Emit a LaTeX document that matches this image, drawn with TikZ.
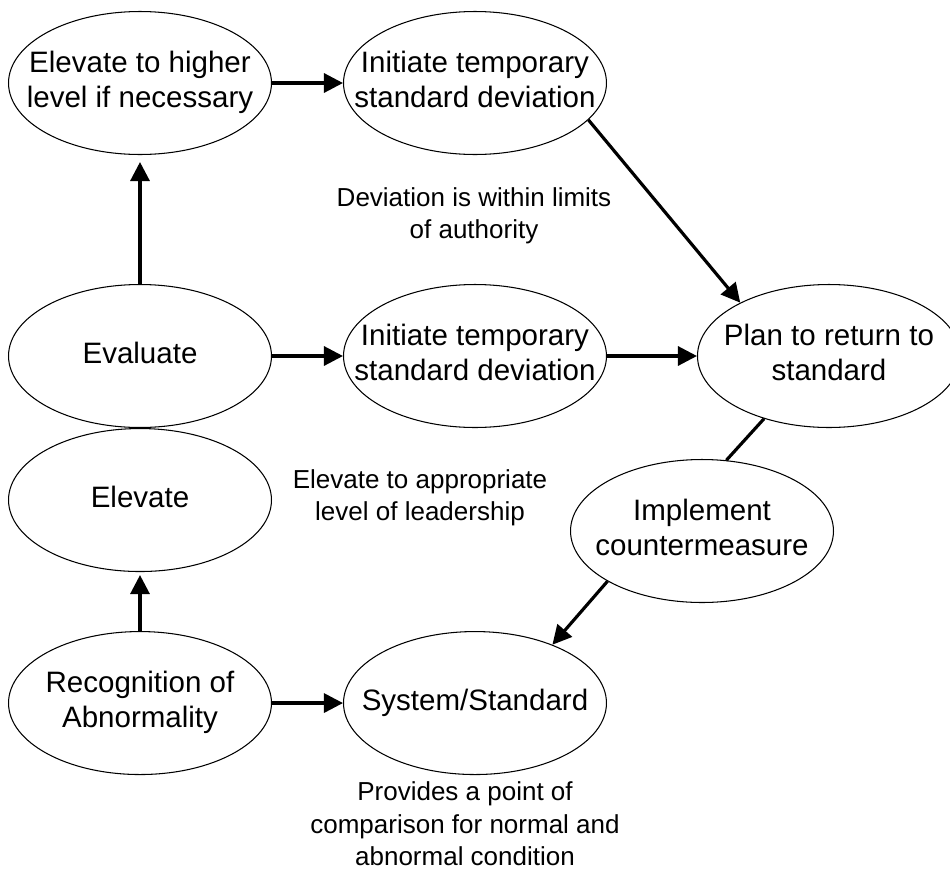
\documentclass[tikz,border=0pt]{standalone}
\usepackage{fontspec}
\setmainfont{Liberation Sans}
\usepackage{tikz}
\usetikzlibrary{positioning,arrows.meta,shapes.geometric}
\newcommand{\inell}[1]{\makebox[0pt]{\begin{tabular}{@{}c@{}}#1\end{tabular}}}

\begin{document}
\begin{tikzpicture}[
      x=0.02cm, y=-0.02cm,
      stage/.style={draw, ellipse, line width=0.6pt, inner sep=0pt,
                    minimum width=5.26cm, minimum height=2.86cm,
                    font=\fontsize{16.8}{20}\selectfont},
      note/.style={align=center, font=\fontsize{14.8}{18.5}\selectfont},
      flow/.style={-{Triangle[length=0.38cm, width=0.38cm]}, line width=1.8pt},
      link/.style={line width=1.8pt},
    ]
    \useasboundingbox (0,0) rectangle (950,869);
    \node[stage] (evaluate) at (140,356) {\inell{Evaluate}};
    \node[stage, above=2.58cm of evaluate] (elevhigh) {\inell{Elevate to higher\\level if necessary}};
    \node[stage, below=0cm of evaluate] (elevate) {\inell{Elevate}};
    \node[stage, below=1.18cm of elevate] (recog) {\inell{Recognition of\\Abnormality}};
    \node[stage, right=1.42cm of elevhigh] (tempdevhi) {\inell{Initiate temporary\\standard deviation}};
    \node[stage, right=1.42cm of evaluate] (tempdev) {\inell{Initiate temporary\\standard deviation}};
    \node[stage, right=1.42cm of recog] (system) {\inell{System/Standard}};
    \node[stage, right=1.8cm of tempdev] (plan) {\inell{Plan to return to\\standard}};
    \node[stage] (implement) at (702,531) {\inell{Implement\\countermeasure}};
    \node[note] (limits) at (474,216) {Deviation is within limits\\of authority};
    \node[note] (leader) at (420,498) {Elevate to appropriate\\level of leadership};
    \node[note] (provides) at (465,824) {Provides a point of\\comparison for normal and\\abnormal condition};
    \draw[flow] (elevhigh) -- (tempdevhi);
    \draw[flow, shorten >=0.14cm] (evaluate) -- (elevhigh);
    \draw[flow] (evaluate) -- (tempdev);
    \draw[flow] (tempdev) -- (plan);
    \draw[flow] (tempdevhi.-18.6) -- (plan.149.7);
    \draw[link] (plan.224) -- (implement.71.8);
    \draw[flow] (implement.208.5) -- (system.37.9);
    \draw[flow, shorten >=0.06cm] (recog) -- (elevate);
    \draw[flow] (recog) -- (system);
  \end{tikzpicture}
\end{document}
